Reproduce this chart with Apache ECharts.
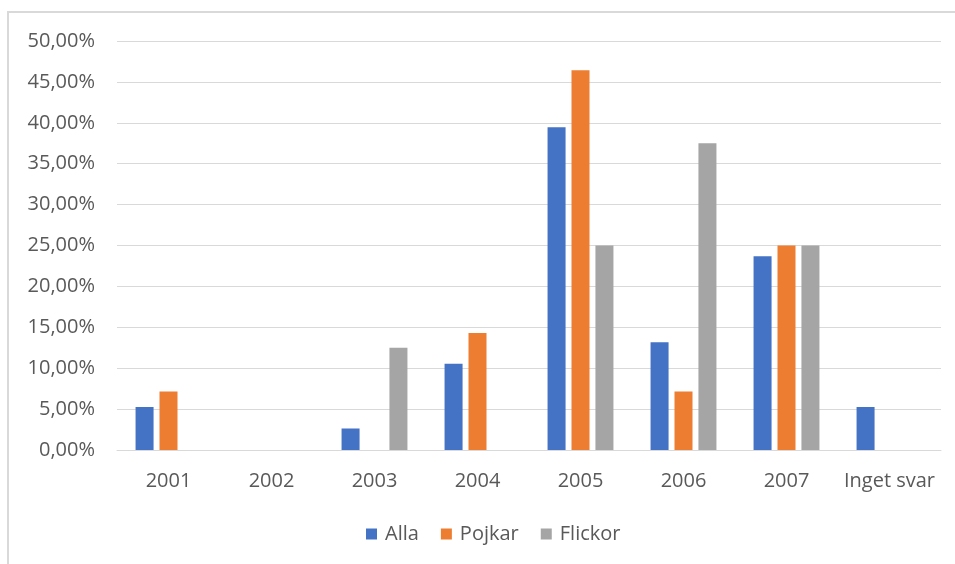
<!DOCTYPE html>
<html>
<head>
<meta charset="utf-8">
<script src="https://cdn.jsdelivr.net/npm/echarts@6/dist/echarts.min.js"></script>
<style>
  html, body { margin: 0; padding: 0; background: #fff; }
  #chart { width: 955px; height: 564px; }
</style>
</head>
<body>
<div id="chart"></div>
<script>
// Födelseår, andel i procent per grupp
const categories = ['2001', '2002', '2003', '2004', '2005', '2006', '2007', 'Inget svar'];
const alla    = [5.26, 0, 2.63, 10.53, 39.47, 13.16, 23.68, 5.26];
const pojkar  = [7.14, 0, 0, 14.29, 46.43, 7.14, 25.00, 0];
const flickor = [0, 0, 12.50, 0, 25.00, 37.50, 25.00, 0];
const yTicks = { min: 0, max: 50, interval: 5 };

const font = "'Open Sans', 'Noto Sans', sans-serif";
const textColor = '#595959';
const gridColor = '#d9d9d9';

const pct = v => v.toFixed(2).replace('.', ',') + '%';

const chart = echarts.init(document.getElementById('chart'), null, { renderer: 'canvas' });

const bar = (name, data, color) => ({
  name,
  type: 'bar',
  data,
  barWidth: 18,
  barGap: '33%',
  itemStyle: { color },
  emphasis: { disabled: true }
});

chart.setOption({
  animation: false,
  backgroundColor: '#fff',
  textStyle: { fontFamily: font },
  graphic: [{
    type: 'rect',
    silent: true,
    shape: { x: 8, y: 12, width: 1000, height: 600 },
    style: { fill: 'none', stroke: gridColor, lineWidth: 2 }
  }],
  grid: { left: 117, right: 14, top: 41, bottom: 114 },
  legend: {
    left: 361,
    top: 519,
    itemWidth: 11,
    itemHeight: 11,
    itemGap: 22,
    icon: 'rect',
    textStyle: { color: textColor, fontSize: 20, fontFamily: font, padding: [0, 0, 0, 3] },
    data: ['Alla', 'Pojkar', 'Flickor']
  },
  xAxis: {
    type: 'category',
    data: categories,
    axisLine: { lineStyle: { color: gridColor, width: 1 } },
    axisTick: { show: false },
    axisLabel: { color: textColor, fontSize: 20, fontFamily: font, margin: 21, interval: 0 }
  },
  yAxis: {
    type: 'value',
    min: yTicks.min,
    max: yTicks.max,
    interval: yTicks.interval,
    axisLine: { show: false },
    axisTick: { show: false },
    splitLine: { lineStyle: { color: gridColor, width: 1 } },
    axisLabel: { color: textColor, fontSize: 20, fontFamily: font, margin: 22, formatter: pct }
  },
  series: [
    bar('Alla', alla, '#4472C4'),
    bar('Pojkar', pojkar, '#ED7D31'),
    bar('Flickor', flickor, '#A5A5A5')
  ]
});
</script>
</body>
</html>
